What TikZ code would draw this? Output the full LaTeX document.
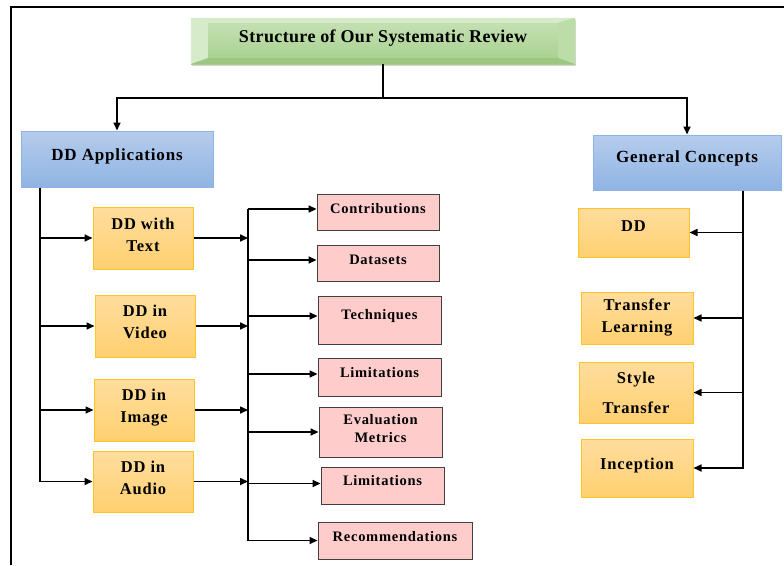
\documentclass[tikz,border=0pt]{standalone}
\usepackage{fontspec}
\setmainfont{Liberation Serif}[LetterSpace=5.0]
\newfontfamily\titlefont{Liberation Serif}[LetterSpace=2.0]
\usetikzlibrary{arrows.meta,calc,shadows}
\definecolor{blueT}{RGB}{182,204,236}
\definecolor{blueB}{RGB}{143,180,227}
\definecolor{blueD}{RGB}{141,180,226}
\definecolor{orT}{RGB}{255,221,158}
\definecolor{orB}{RGB}{255,208,112}
\definecolor{orD}{RGB}{255,196,40}
\definecolor{pinkF}{RGB}{255,204,204}
\definecolor{pinkD}{RGB}{64,64,64}
\definecolor{grT}{RGB}{200,226,184}
\definecolor{grB}{RGB}{166,207,139}
\definecolor{grL}{RGB}{214,235,202}
\definecolor{grR}{RGB}{188,221,167}
\definecolor{grK}{RGB}{156,198,130}
\newcommand\up[2]{\raisebox{#1}[\height][\depth]{\begin{tabular}{@{}c@{}}#2\end{tabular}}}
\begin{document}
\begin{tikzpicture}[x=1pt,y=-1pt,
  box/.style={rectangle,inner sep=0pt,align=center},
  titlebox/.style={box,top color=grT,bottom color=grB,minimum width=384pt,minimum height=46pt,
    drop shadow={shadow xshift=1pt,shadow yshift=-2pt,opacity=0.3},
    font=\titlefont\fontsize{18}{22}\selectfont\bfseries},
  bluebox/.style={box,draw=blueD,line width=1pt,top color=blueT,bottom color=blueB,
    font=\fontsize{17}{20}\selectfont\bfseries},
  orbox/.style={box,draw=orD,line width=1pt,top color=orT,bottom color=orB,
    font=\fontsize{16.5}{22}\selectfont\bfseries},
  pinkbox/.style={box,draw=pinkD,line width=0.9pt,fill=pinkF,
    font=\fontsize{14.5}{18}\selectfont\bfseries},
  conn/.style={line width=1.6pt},
  arr/.style={conn,-{Triangle[length=8pt,width=7pt]}}]
\useasboundingbox (0,0) rectangle (784,565);
\fill[white] (0,0) rectangle (784,565);
% frame
\draw[line width=2pt] (11,565) -- (11,7) -- (784,7);

% title
\node[titlebox] (title) at (383,41) {\up{3pt}{Structure of Our Systematic Review}};
\fill[grL] (title.north west) -- ($(title.north west)+(17,5)$) -- ($(title.south west)+(17,-6)$) -- (title.south west) -- cycle;
\fill[grL] (title.north west) -- (title.north east) -- ($(title.north east)+(-17,5)$) -- ($(title.north west)+(17,5)$) -- cycle;
\fill[grR] (title.north east) -- (title.south east) -- ($(title.south east)+(-17,-6)$) -- ($(title.north east)+(-17,5)$) -- cycle;
\fill[grK] (title.south west) -- ($(title.south west)+(17,-6)$) -- ($(title.south east)+(-17,-6)$) -- (title.south east) -- cycle;

% level 1
\node[bluebox,minimum width=192pt,minimum height=56pt] (app) at (117,159) {\up{3pt}{DD Applications}};
\node[bluebox,minimum width=188pt,minimum height=55pt] (gen) at (687,162.5) {\up{4pt}{General Concepts}};

% applications
\node[orbox,minimum width=100pt,minimum height=62pt] (txt) at (143,238) {\up{2pt}{DD with\\Text}};
\node[orbox,minimum width=100pt,minimum height=62pt] (vid) at (145,326) {\up{3pt}{DD in\\Video}};
\node[orbox,minimum width=100pt,minimum height=62pt] (img) at (144,410) {\up{3pt}{DD in\\Image}};
\node[orbox,minimum width=100pt,minimum height=61pt] (aud) at (143,481.5) {\up{2pt}{DD in\\Audio}};

% aspects
\node[pinkbox,minimum width=122pt,minimum height=36pt] (c1) at (378,212) {\up{2pt}{Contributions}};
\node[pinkbox,minimum width=122pt,minimum height=36pt] (c2) at (378,263) {\up{2pt}{Datasets}};
\node[pinkbox,minimum width=123pt,minimum height=48pt] (c3) at (379.5,320) {\up{4pt}{Techniques}};
\node[pinkbox,minimum width=123pt,minimum height=38pt] (c4) at (379.5,377) {\up{3pt}{Limitations}};
\node[pinkbox,minimum width=123pt,minimum height=50pt] (c5) at (380.5,432) {\up{2pt}{Evaluation\\Metrics}};
\node[pinkbox,minimum width=123pt,minimum height=37pt] (c6) at (382.5,485.5) {\up{4pt}{Limitations}};
\node[pinkbox,minimum width=154pt,minimum height=37pt] (c7) at (395,540.5) {\up{3pt}{Recommendations}};

% concepts
\node[orbox,minimum width=111pt,minimum height=49pt] (g1) at (633.5,232.5) {\up{5pt}{DD}};
\node[orbox,minimum width=112pt,minimum height=52pt] (g2) at (637,318) {\up{1pt}{Transfer\\Learning}};
\node[orbox,minimum width=114pt,minimum height=61pt,font=\fontsize{16.5}{30}\selectfont\bfseries] (g3) at (636,392.5) {\up{0pt}{Style\\Transfer}};
\node[orbox,minimum width=112pt,minimum height=58pt] (g4) at (637,468) {\up{3pt}{Inception}};

% top connectors
\coordinate (hy) at (0,98);
\draw[conn] (title.south) -- (title.south |- hy);
\draw[arr] (title.south |- hy) -| (app.north);
\draw[arr] (title.south |- hy) -| (gen.north);

% left trunk
\coordinate (lx) at (40,0);
\draw[arr] (app.south -| lx) |- (txt.west);
\draw[arr] (app.south -| lx) |- (vid.west);
\draw[arr] (app.south -| lx) |- (img.west);
\draw[arr] (app.south -| lx) |- (aud.west);

% middle trunk
\coordinate (mx) at (248,0);
\draw[conn] ([yshift=3pt]c1.west -| mx) -- (c7.west -| mx);
\draw[arr] (txt.east) -- (txt.east -| mx);
\draw[arr] (vid.east) -- (vid.east -| mx);
\draw[arr] (img.east) -- (img.east -| mx);
\draw[arr] (aud.east) -- (aud.east -| mx);
\draw[arr] ([yshift=3pt]c1.west -| mx) -- ([yshift=3pt]c1.west);
\draw[arr] ([yshift=3pt]c2.west -| mx) -- ([yshift=3pt]c2.west);
\draw[arr] ([yshift=4pt]c3.west -| mx) -- ([yshift=4pt]c3.west);
\draw[arr] ([yshift=3pt]c4.west -| mx) -- ([yshift=3pt]c4.west);
\draw[arr] (c5.west -| mx) -- (c5.west);
\draw[arr] ([yshift=2pt]c6.west -| mx) -- ([yshift=2pt]c6.west);
\draw[arr] (c7.west -| mx) -- (c7.west);

% right trunk
\coordinate (rx) at (743,0);
\draw[arr] (gen.south -| rx) |- (g1.east);
\draw[arr] (gen.south -| rx) |- (g2.east);
\draw[arr] (gen.south -| rx) |- (g3.east);
\draw[arr] (gen.south -| rx) |- (g4.east);
\end{tikzpicture}
\end{document}
